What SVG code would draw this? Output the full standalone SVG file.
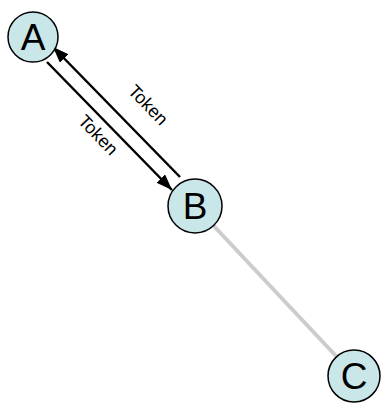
<svg xmlns="http://www.w3.org/2000/svg" width="381" height="404" viewBox="0 0 381 404">
<style>
.node{fill:#c9e6e9;stroke:#000;stroke-width:1.5}
.lbl{font-family:"Liberation Sans",Arial,sans-serif;font-size:37px;fill:#000;text-anchor:middle}
.el{font-family:"Liberation Sans",Arial,sans-serif;font-size:18px;fill:#000;text-anchor:middle}
.e{stroke:#000;stroke-width:2.5;fill:none}
</style>
<defs>
<marker id="ah" viewBox="0 0 16 12" refX="16" refY="6" markerWidth="16" markerHeight="12" markerUnits="userSpaceOnUse" orient="auto">
<path d="M0,0 L16,6 L0,12 z" fill="#000"/>
</marker>
</defs>
<rect width="381" height="404" fill="#fff"/>
<g id="connectors">
<line x1="212" y1="224" x2="336" y2="356" stroke="#cccccc" stroke-width="4"/>
<line class="e" x1="47" y1="62" x2="172" y2="190" marker-end="url(#ah)"/>
<line class="e" x1="180" y1="177" x2="53" y2="47" marker-end="url(#ah)"/>
<text class="el" transform="translate(148,105) rotate(46)" y="6">Token</text>
<text class="el" transform="translate(98,135) rotate(46)" y="6">Token</text>
</g>
<g id="A"><circle class="node" cx="33" cy="37" r="25"/><text class="lbl" x="33" y="50">A</text></g>
<g id="B"><circle class="node" cx="195" cy="206" r="27"/><text class="lbl" x="195" y="219">B</text></g>
<g id="C"><circle class="node" cx="354" cy="376" r="26"/><text class="lbl" x="354" y="389">C</text></g>
</svg>
